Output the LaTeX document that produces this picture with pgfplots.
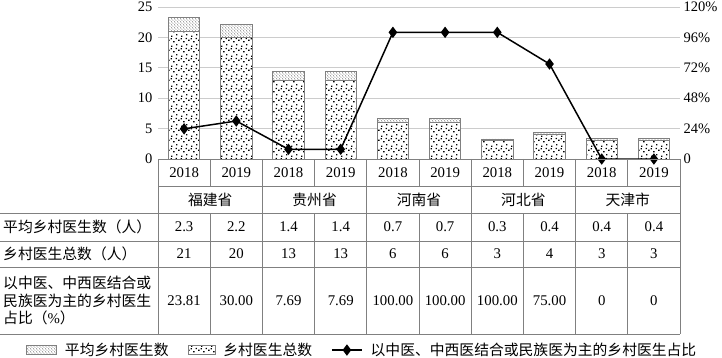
\documentclass[border=0pt]{standalone}
\usepackage{pgfplots}
\pgfplotsset{compat=1.18}
\usepackage{fontspec}
\setmainfont{Liberation Serif}
\newfontfamily\cjk{Noto Sans CJK SC}
\usetikzlibrary{patterns}
\pgfdeclarepatternformonly{sparsedots}{\pgfqpoint{-1pt}{-1pt}}{\pgfqpoint{11pt}{11pt}}{\pgfqpoint{10pt}{10pt}}{%
  \pgfpathrectangle{\pgfqpoint{1pt}{1pt}}{\pgfqpoint{1.3pt}{1.3pt}}%
  \pgfpathrectangle{\pgfqpoint{6pt}{2.5pt}}{\pgfqpoint{1.3pt}{1.3pt}}%
  \pgfpathrectangle{\pgfqpoint{3.2pt}{5.5pt}}{\pgfqpoint{1.3pt}{1.3pt}}%
  \pgfpathrectangle{\pgfqpoint{8.2pt}{7pt}}{\pgfqpoint{1.3pt}{1.3pt}}%
  \pgfpathrectangle{\pgfqpoint{0.5pt}{8.5pt}}{\pgfqpoint{1.3pt}{1.3pt}}%
  \pgfpathrectangle{\pgfqpoint{5.5pt}{8.8pt}}{\pgfqpoint{1.3pt}{1.3pt}}%
  \pgfusepath{fill}}
\pgfdeclarepatternformonly{finedots}{\pgfqpoint{-1pt}{-1pt}}{\pgfqpoint{4pt}{4pt}}{\pgfqpoint{3pt}{3pt}}{%
  \pgfpathcircle{\pgfqpoint{0.5pt}{0.5pt}}{0.45pt}%
  \pgfpathcircle{\pgfqpoint{2pt}{1.5pt}}{0.45pt}%
  \pgfpathcircle{\pgfqpoint{1pt}{2.5pt}}{0.35pt}%
  \pgfusepath{fill}}
\definecolor{tbl}{gray}{0.5}
\definecolor{grd}{gray}{0.8}
\pgfplotsset{lineleg/.style={legend image code/.code={\draw[mark repeat=2,mark phase=2,##1] plot coordinates {(0pt,0pt) (15pt,0pt) (30pt,0pt)};}}}
\begin{document}
\begin{tikzpicture}
\path[use as bounding box] (0,0) rectangle (722pt,-358pt);
\begin{axis}[
  at={(158pt,-159pt)}, anchor=south west,
  scale only axis, width=522pt, height=152pt,
  xmin=-0.5, xmax=9.5, ymin=0, ymax=25,
  ytick={0,5,...,25}, xtick=\empty,
  ymajorgrids, grid style={grd, line width=0.9pt},
  axis line style={draw=none}, major tick length=0pt,
  ybar stacked, bar width=0.6,
  tick label style={font=\fontsize{14.5}{14.5}\selectfont},
  yticklabel style={xshift=-2pt},
  /pgf/number format/assume math mode=true,
]
\addplot[draw=black!50, line width=0.8pt, fill=white, postaction={pattern=sparsedots}] coordinates {
 (0,21) (1,20) (2,13) (3,13) (4,6) (5,6) (6,3) (7,4) (8,3) (9,3)};
\addplot[draw=black!50, line width=0.8pt, fill=white, postaction={pattern=finedots, pattern color=black!55}] coordinates {
 (0,2.3) (1,2.2) (2,1.4) (3,1.4) (4,0.7) (5,0.7) (6,0.3) (7,0.4) (8,0.4) (9,0.4)};
\end{axis}
\begin{axis}[
  at={(158pt,-159pt)}, anchor=south west,
  scale only axis, width=522pt, height=152pt,
  xmin=-0.5, xmax=9.5, ymin=0, ymax=120,
  axis y line*=right, axis x line=none,
  ytick={0,24,48,72,96,120},
  yticklabels={0,24\%,48\%,72\%,96\%,120\%},
  axis line style={draw=none}, major tick length=0pt,
  tick label style={font=\fontsize{14.5}{14.5}\selectfont},
  /pgf/number format/assume math mode=true,
  clip=false,
  legend columns=3,
  legend style={at={(axis description cs:-0.2529,-1.257)}, anchor=west, draw=none, fill=none,
    inner sep=0pt, font=\cjk\fontsize{14.8}{16}\selectfont,
    /tikz/every odd column/.append style={column sep=6pt},
    /tikz/every even column/.append style={column sep=17pt}},
]
\addlegendimage{legend image code/.code={\draw[draw=black!50, line width=0.8pt, fill=white, postaction={pattern=finedots, pattern color=black!55}] (0pt,-4.5pt) rectangle (30pt,4.5pt);}}
\addlegendimage{legend image code/.code={\draw[draw=black!50, line width=0.8pt, fill=white, postaction={pattern=sparsedots}] (0pt,-4.5pt) rectangle (27pt,4.5pt);}}
\addplot[black, line width=1.5pt, mark=diamond*, mark size=4.5pt, lineleg]
 coordinates {(0,23.81) (1,30) (2,7.69) (3,7.69) (4,100) (5,100) (6,100) (7,75) (8,0) (9,0)};
\legend{平均乡村医生数,乡村医生总数,以中医、中西医结合或民族医为主的乡村医生占比}
\end{axis}
% table
\begin{scope}[draw=tbl, line width=0.8pt]
\draw (158pt,-159pt) -- (680pt,-159pt);
\draw (158pt,-186pt) -- (680pt,-186pt);
\foreach \y in {213,241,267,334} \draw (0pt,-\y pt) -- (680pt,-\y pt);
\foreach \x in {158,262.4,366.8,471.2,575.6,680} \draw (\x pt,-159pt) -- (\x pt,-334pt);
\foreach \x in {210.2,314.6,419,523.4,627.8} {
  \draw (\x pt,-159pt) -- (\x pt,-186pt);
  \draw (\x pt,-213pt) -- (\x pt,-334pt);}
\end{scope}
\begin{scope}[font=\fontsize{14.8}{17.5}\selectfont]
\foreach \y [count=\i from 0] in {2018,2019,2018,2019,2018,2019,2018,2019,2018,2019}
  \node at ({(158+52.2*(\i+0.5))*1pt},-172.5pt) {\y};
\foreach \p [count=\i from 0] in {福建省,贵州省,河南省,河北省,天津市}
  \node at ({(158+104.4*(\i+0.5))*1pt},-199.5pt) {\cjk \p};
\foreach \v [count=\i from 0] in {2.3,2.2,1.4,1.4,0.7,0.7,0.3,0.4,0.4,0.4}
  \node at ({(158+52.2*(\i+0.5))*1pt},-227pt) {\v};
\foreach \v [count=\i from 0] in {21,20,13,13,6,6,3,4,3,3}
  \node at ({(158+52.2*(\i+0.5))*1pt},-254pt) {\v};
\foreach \v [count=\i from 0] in {23.81,30.00,7.69,7.69,100.00,100.00,100.00,75.00,0,0}
  \node at ({(158+52.2*(\i+0.5))*1pt},-300.5pt) {\v};
\node[anchor=west, inner sep=0pt] at (3pt,-227pt) {\cjk 平均乡村医生数（人）};
\node[anchor=west, inner sep=0pt] at (3pt,-254pt) {\cjk 乡村医生总数（人）};
\node[anchor=west, inner sep=0pt, align=left] at (3pt,-300.5pt) {{\cjk 以中医、中西医结合或}\\{\cjk 民族医为主的乡村医生}\\{\cjk 占比（}\%{\cjk ）}};
\end{scope}
\end{tikzpicture}
\end{document}
